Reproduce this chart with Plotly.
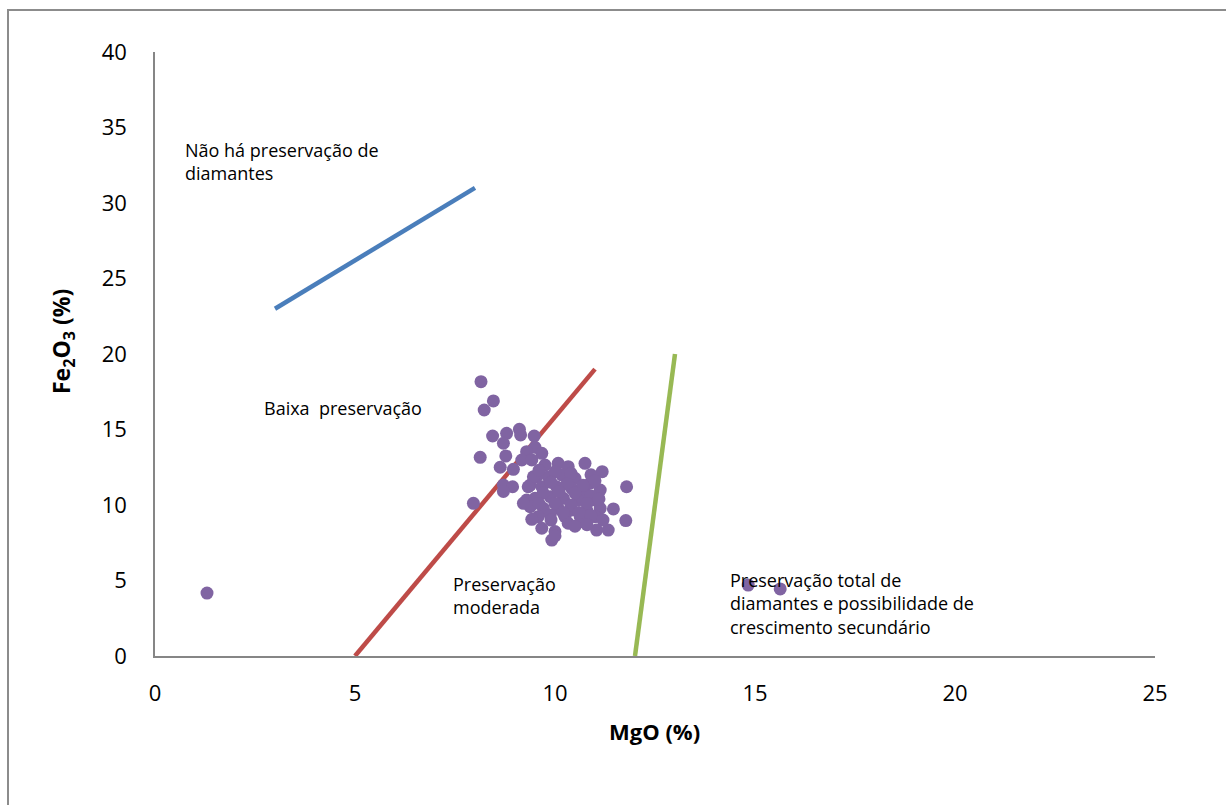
import plotly.graph_objects as go

# Sample data: MgO (%) vs Fe2O3 (%)
mgo = [1.30, 14.83, 15.63,
       8.15, 8.46, 8.23, 8.44, 8.79, 9.11, 9.14, 8.71, 9.48, 8.13, 8.77, 9.50, 9.67,
       9.29, 9.17, 8.63, 8.96, 8.71, 8.94, 8.71, 7.96, 9.38, 9.54, 9.29,
       9.42, 9.75, 10.08, 10.33, 10.75, 11.18, 9.46, 9.83, 10.17, 10.50, 10.88, 11.13,
       9.33, 9.67, 10.04, 10.42, 10.75, 9.50, 9.88, 10.21, 10.58, 11.00,
       9.38, 9.71, 10.08, 10.42, 10.79, 11.13, 9.58, 9.88, 10.25, 10.63, 11.00,
       10.33, 10.67, 9.67, 10.00, 11.04, 11.33,
       11.79, 11.46, 11.77, 9.92, 10.00, 9.21, 9.42,
       9.60, 10.00, 10.40, 10.90, 9.90, 10.30, 10.70, 11.00, 9.70, 10.10, 10.50, 10.90,
       9.60, 10.00, 10.40, 10.80, 11.10, 10.20, 10.60, 10.90, 9.90, 10.50, 10.80, 11.20]
fe2o3 = [4.17, 4.70, 4.44,
         18.17, 16.89, 16.29, 14.57, 14.75, 15.01, 14.64, 14.09, 14.57, 13.16, 13.25, 13.82, 13.42,
         13.53, 12.98, 12.50, 12.36, 11.32, 11.21, 10.90, 10.11, 11.32, 11.87, 10.33,
         12.98, 12.65, 12.76, 12.54, 12.76, 12.21, 11.87, 11.87, 11.99, 11.77, 11.44, 10.99,
         11.21, 11.21, 11.21, 11.10, 10.78, 10.44, 10.55, 10.44, 10.33, 10.33,
         9.89, 9.78, 9.78, 9.67, 9.67, 9.78, 9.23, 9.34, 9.23, 9.23, 9.23,
         8.79, 8.90, 8.46, 8.24, 8.34, 8.34,
         11.21, 9.74, 8.97, 7.68, 7.95, 10.11, 9.05,
         12.30, 12.20, 12.10, 12.00, 11.50, 11.40, 11.30, 11.60, 10.80, 10.90, 10.80, 10.60,
         10.10, 10.10, 10.00, 10.10, 10.40, 9.50, 9.50, 9.30, 9.00, 8.60, 8.70, 9.00]

# Boundary lines
blue_x, blue_y = [3, 8], [23, 31]
red_x, red_y = [5, 11], [0, 19]
green_x, green_y = [12, 13], [0, 20]

x_ticks = [0, 5, 10, 15, 20, 25]
y_ticks = [0, 5, 10, 15, 20, 25, 30, 35, 40]

FONT = "Open Sans"

fig = go.Figure()
fig.add_trace(go.Scatter(x=blue_x, y=blue_y, mode="lines",
                         line=dict(color="#4A7EBB", width=4.5), showlegend=False))
fig.add_trace(go.Scatter(x=red_x, y=red_y, mode="lines",
                         line=dict(color="#BE4B48", width=4.5), showlegend=False))
fig.add_trace(go.Scatter(x=green_x, y=green_y, mode="lines",
                         line=dict(color="#98B954", width=4.5), showlegend=False))
fig.add_trace(go.Scatter(x=mgo, y=fe2o3, mode="markers",
                         marker=dict(color="#8064A2", size=13, line=dict(width=0)),
                         showlegend=False))

annots = [
    (183, 161, "Não há preservação de<br>diamantes"),
    (262, 408, "Baixa  preservação"),
    (451, 595, "Preservação<br>moderada"),
    (728, 603, "Preservação total de<br>diamantes e possibilidade de<br>crescimento secundário"),
]
for px, py, txt in annots:
    fig.add_annotation(x=(px - 155) / 1000, y=(656 - py) / 604, xref="paper", yref="paper",
                       text=txt, showarrow=False, xanchor="left", yanchor="middle",
                       align="left", font=dict(family=FONT, size=18, color="#000"))

fig.add_annotation(x=(654 - 155) / 1000, y=(656 - 731) / 604, xref="paper", yref="paper",
                   text="<b>MgO (%)</b>", showarrow=False, xanchor="center", yanchor="middle",
                   font=dict(family=FONT, size=22, color="#000"))
fig.add_annotation(x=(62 - 155) / 1000, y=(656 - 342) / 604, xref="paper", yref="paper",
                   text="<b>Fe<sub>2</sub>O<sub>3</sub> (%)</b>", showarrow=False,
                   textangle=-90, xanchor="center", yanchor="middle",
                   font=dict(family=FONT, size=23, color="#000"))

# outer chart border
fig.add_shape(type="rect", xref="paper", yref="paper",
              x0=(8 - 155) / 1000, x1=(1240 - 155) / 1000,
              y0=(656 - 820) / 604, y1=(656 - 10) / 604,
              line=dict(color="#8C8C8C", width=2), fillcolor="rgba(0,0,0,0)")

fig.update_xaxes(range=[0, 25], tickvals=x_ticks, showgrid=False, zeroline=False,
                 showline=True, linecolor="#868686", linewidth=1.5, ticks="",
                 ticklabelstandoff=17,
                 tickfont=dict(family=FONT, size=22, color="#000"))
fig.update_yaxes(range=[0, 40], tickvals=y_ticks, showgrid=False, zeroline=False,
                 showline=True, linecolor="#868686", linewidth=1.5, ticks="",
                 ticklabelstandoff=22,
                 tickfont=dict(family=FONT, size=22, color="#000"))

fig.update_layout(width=1226, height=805, margin=dict(l=155, r=71, t=52, b=149),
                  plot_bgcolor="white", paper_bgcolor="white",
                  font=dict(family=FONT))

fig.write_html("out.html")
